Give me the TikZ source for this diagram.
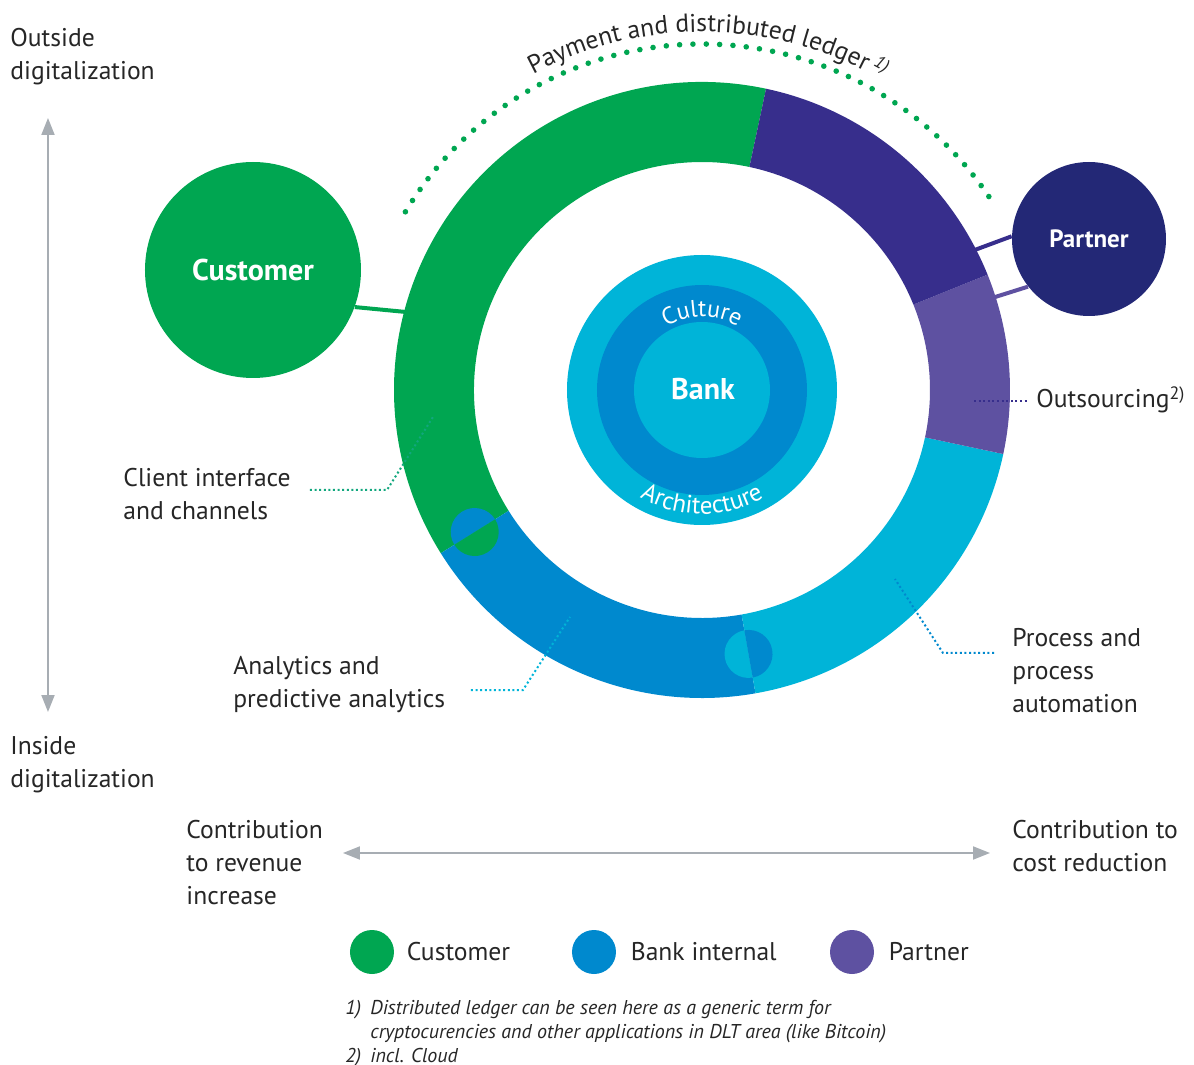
\documentclass[tikz,border=0pt]{standalone}
\usepackage{fontspec}
\setmainfont{PT Sans}
\usetikzlibrary{arrows.meta, positioning, decorations.text}

\definecolor{custgreen}{HTML}{00A651}
\definecolor{leadgreen}{HTML}{12A77E}
\definecolor{partnerpurple}{HTML}{372E8C}
\definecolor{outpurple}{HTML}{5E51A1}
\definecolor{proccyan}{HTML}{00B4D8}
\definecolor{bankblue}{HTML}{0089CE}
\definecolor{partnernavy}{HTML}{232876}
\definecolor{axisgray}{HTML}{A7ADB3}
\definecolor{txtgray}{HTML}{262626}

\tikzset{
  lbl/.style = {anchor = base west, align = left, inner sep = 0pt, text = txtgray, font = \fontsize{12.8}{16.5}\selectfont},
  legtxt/.style = {anchor = west, inner sep = 0pt, text = txtgray, font = \fontsize{12.8}{16.5}\selectfont},
  note/.style = {anchor = base west, align = left, inner sep = 0pt, text = txtgray, font = \itshape\fontsize{10}{12}\selectfont},
  leader/.style = {line width = 1pt, dash pattern = on 1pt off 1.3pt},
  axisarrow/.style = {draw = axisgray, line width = 1pt, arrows = {Triangle[length = 8.5pt, width = 6.5pt]-Triangle[length = 8.5pt, width = 6.5pt]}},
  bubble/.style = {circle, inner sep = 0pt, text = white},
  legdot/.style = {circle, minimum size = 22pt, inner sep = 0pt}
}

% one piece of the ring: colour, start angle, end angle
\newcommand{\ringpart}[3]{\fill[#1] (#2:308) arc[start angle = #2, end angle = #3, radius = 308] -- (#3:228) arc[start angle = #3, end angle = #2, radius = 228] -- cycle;}

\begin{document}
\begin{tikzpicture}[x = 0.5pt, y = 0.5pt]
  \useasboundingbox (-702, -675) rectangle (492, 390);

  % ring
  \ringpart{custgreen}{78}{212}
  \ringpart{bankblue}{212}{280}
  \ringpart{proccyan}{280}{348}
  \ringpart{outpurple}{348}{382}
  \ringpart{partnerpurple}{22}{78}

  % half discs on the seams
  \fill[bankblue] (212:268) ++(32:24) arc[start angle = 32, end angle = 212, radius = 24] -- cycle;
  \fill[custgreen] (212:268) ++(212:24) arc[start angle = 212, end angle = 392, radius = 24] -- cycle;
  \fill[proccyan] (280:268) ++(100:24) arc[start angle = 100, end angle = 280, radius = 24] -- cycle;
  \fill[bankblue] (280:268) ++(280:24) arc[start angle = 280, end angle = 460, radius = 24] -- cycle;

  % bank in the middle
  \fill[proccyan] (0, 0) circle[radius = 135];
  \fill[bankblue] (0, 0) circle[radius = 105];
  \fill[proccyan] (0, 0) circle[radius = 68];
  \node[font = \bfseries\fontsize{15}{18}\selectfont, text = white] (bank) at (1, 1) {Bank};
  \path[decorate, decoration = {text along path, text align = center, text = {|\fontsize{12}{14}\selectfont\color{white}|Culture}}] (160:73) arc[start angle = 160, end angle = 20, radius = 73];
  \path[decorate, decoration = {text along path, text align = center, text = {|\fontsize{12.5}{14}\selectfont\color{white}|Architecture}}] (200:124) arc[start angle = 200, end angle = 340, radius = 124];

  % payment arc
  \foreach \k in {0,...,52}
    \fill[custgreen] ({34 + \k*115/52}:346) circle[radius = 2.8];
  \path[decorate, decoration = {text along path, text align = center, text = {|\fontsize{12.8}{14}\selectfont\color{txtgray}|Payment and distributed ledger{\,\textsuperscript{\itshape 1)}}}}] (150:358) arc[start angle = 150, end angle = 28, radius = 358];

  % customer and partner
  \node[bubble, fill = custgreen, minimum size = 108pt, font = \bfseries\fontsize{15}{18}\selectfont] (cust) at (-449, 120) {Customer};
  \coordinate (custring) at (-296, 78);
  \draw[custgreen, line width = 2pt] (cust.-20) -- (custring);
  \node[bubble, fill = partnernavy, minimum size = 77pt, font = \bfseries\fontsize{12.5}{15}\selectfont] (partner) at (387, 151) {Partner};
  \coordinate (partring) at (270, 139);
  \coordinate (outring) at (290, 92);
  \draw[partnerpurple, line width = 2pt] (partring) -- (partner.178);
  \draw[outpurple, line width = 2pt] (outring) -- (partner.218);

  % labels and leaders (base = last line)
  \node[lbl] (client) at (-579, -130) {Client interface\\and channels};
  \coordinate (clientA) at (-392, -100);
  \coordinate (clientB) at (-315, -100);
  \coordinate (clientC) at (-269, -27);
  \draw[leader, leadgreen] (clientA) -- (clientB) -- (clientC);

  \node[lbl] (analytics) at (-469, -317) {Analytics and\\predictive analytics};
  \coordinate (anaA) at (-231, -300);
  \coordinate (anaB) at (-179, -300);
  \coordinate (anaC) at (-132, -227);
  \draw[leader, proccyan] (anaA) -- (anaB) -- (anaC);

  \node[lbl] (process) at (310, -322) {Process and\\process\\automation};
  \coordinate (procA) at (292, -263);
  \coordinate (procB) at (241, -263);
  \coordinate (procC) at (193, -189);
  \draw[leader, bankblue] (procA) -- (procB) -- (procC);

  \node[lbl] (outsourcing) at (334, -18) {Outsourcing\textsuperscript{2)}};
  \coordinate (outA) at (272, -11);
  \coordinate (outB) at (325, -11);
  \draw[leader, partnerpurple] (outA) -- (outB);

  % axes
  \node[lbl] (outside) at (-692, 310) {Outside\\digitalization};
  \node[lbl] (inside) at (-692, -397) {Inside\\digitalization};
  \coordinate (vtop) at (-654, 272);
  \coordinate (vbot) at (-654, -322);
  \draw[axisarrow] (vtop) -- (vbot);

  \node[lbl] (revenue) at (-516, -514) {Contribution\\to revenue\\increase};
  \node[lbl] (cost) at (310, -481) {Contribution to\\cost reduction};
  \coordinate (hleft) at (-359, -463);
  \coordinate (hright) at (288, -463);
  \draw[axisarrow] (hleft) -- (hright);

  % legend
  \node[legdot, fill = custgreen] (legcust) at (-330, -562) {};
  \node[legtxt, right = 6pt of legcust] (legcusttxt) {Customer};
  \node[legdot, fill = bankblue] (legbank) at (-108, -562) {};
  \node[legtxt, right = 7pt of legbank] (legbanktxt) {Bank internal};
  \node[legdot, fill = outpurple] (legpart) at (150, -562) {};
  \node[legtxt, right = 7pt of legpart] (legparttxt) {Partner};

  % footnotes
  \node[note] (notes) at (-357, -672) {\makebox[12.5pt][l]{1)}Distributed ledger can be seen here as a generic term for\\\hspace*{12.5pt}cryptocurencies and other applications in DLT area (like Bitcoin)\\\makebox[12.5pt][l]{2)}incl. Cloud};
\end{tikzpicture}
\end{document}
